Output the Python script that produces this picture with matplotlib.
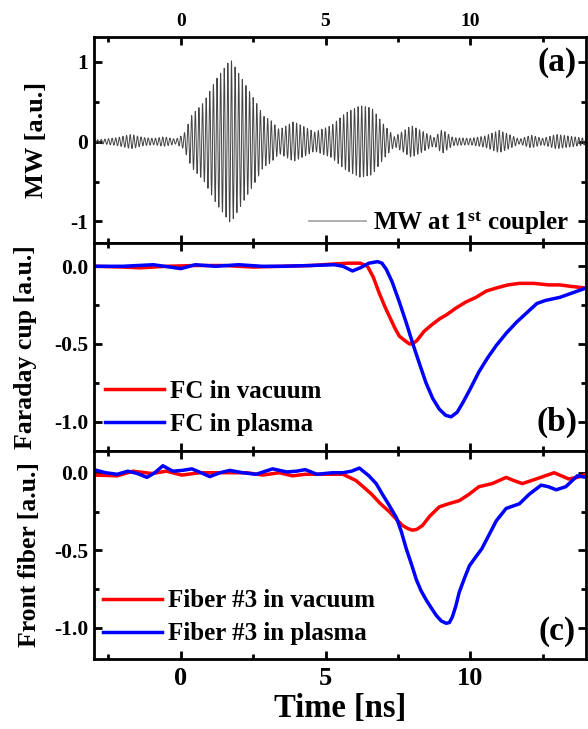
import numpy as np
import matplotlib
matplotlib.use("Agg")
import matplotlib.pyplot as plt
from matplotlib.ticker import MultipleLocator

plt.rcParams["font.family"] = ["Liberation Serif", "DejaVu Serif"]
plt.rcParams["font.weight"] = "bold"
plt.rcParams["mathtext.fontset"] = "custom"
plt.rcParams["mathtext.rm"] = "Liberation Serif:bold"
plt.rcParams["mathtext.bf"] = "Liberation Serif:bold"
plt.rcParams["mathtext.it"] = "Liberation Serif:bold"

# ---- (a) microwave signal at the first coupler: envelope + carrier ----
mw_env_t = [-3.0, -2.66, -2.2, -1.72, -1.28, -0.93, -0.59, -0.17, 0.1, 0.38,
            0.79, 1.24, 1.72, 2.17, 2.62, 2.85, 3.1, 3.4, 3.9, 4.3, 4.62, 5.2,
            5.7, 6.2, 6.6, 7.0, 7.38, 7.97, 8.4, 8.76, 9.03, 9.4, 10.0, 10.5,
            11.0, 11.4, 11.7, 12.1, 12.5, 12.97, 13.6, 14.0]
mw_env_amp = [0.02, 0.03, 0.05, 0.09, 0.05, 0.04, 0.06, 0.03, 0.09, 0.33,
              0.49, 0.79, 1.03, 0.75, 0.48, 0.32, 0.27, 0.15, 0.25, 0.18, 0.12,
              0.2, 0.36, 0.45, 0.42, 0.22, 0.06, 0.2, 0.12, 0.05, 0.15, 0.05,
              0.04, 0.07, 0.14, 0.08, 0.03, 0.08, 0.04, 0.09, 0.06, 0.04]
mw_period_ns = 0.125

# ---- (b) Faraday cup ----
fc_vac_t = [-3.0, -2.0, -1.4, -0.5, 0.5, 1.5, 2.5, 3.5, 4.5, 5.3, 5.8, 6.2,
            6.45, 6.65, 6.85, 7.05, 7.2, 7.4, 7.55, 7.75, 7.9, 8.0, 8.15, 8.4,
            8.65, 8.93, 9.2, 9.5, 9.85, 10.2, 10.55, 10.9, 11.3, 11.7, 12.2,
            12.7, 13.1, 13.5, 14.0]
fc_vac = [0.0, -0.005, -0.01, 0.0, 0.005, 0.005, -0.005, 0.0, 0.005, 0.015,
          0.02, 0.02, 0.0, -0.07, -0.17, -0.26, -0.32, -0.4, -0.45, -0.48,
          -0.5, -0.5, -0.48, -0.42, -0.38, -0.34, -0.31, -0.27, -0.23, -0.2,
          -0.16, -0.14, -0.12, -0.11, -0.11, -0.12, -0.12, -0.13, -0.14]

fc_pla_t = [-3.0, -2.0, -0.95, 0.0, 0.5, 1.2, 2.0, 2.8, 3.5, 4.5, 5.3, 5.6,
            5.93, 6.2, 6.5, 6.8, 6.95, 7.1, 7.3, 7.55, 7.8, 8.0, 8.25, 8.47,
            8.7, 8.93, 9.15, 9.34, 9.55, 9.74, 10.0, 10.3, 10.6, 10.9, 11.25,
            11.6, 11.95, 12.3, 12.6, 12.85, 13.1, 13.4, 13.7, 14.0]
fc_pla = [0.0, 0.0, 0.01, -0.015, 0.01, 0.0, 0.01, 0.0, 0.0, 0.005, 0.01,
          0.0, -0.03, -0.01, 0.02, 0.03, 0.02, -0.02, -0.1, -0.23, -0.37, -0.49,
          -0.63, -0.75, -0.85, -0.92, -0.96, -0.97, -0.94, -0.88, -0.79, -0.68,
          -0.59, -0.51, -0.43, -0.36, -0.3, -0.24, -0.22, -0.21, -0.2, -0.18,
          -0.16, -0.14]

# ---- (c) front fiber #3 ----
fib_vac_t = [-3.0, -2.2, -1.65, -1.0, -0.5, 0.03, 0.66, 1.55, 2.28, 2.83, 3.4,
             3.86, 4.3, 4.9, 5.6, 6.05, 6.3, 6.6, 6.9, 7.2, 7.45, 7.66, 7.85,
             8.0, 8.15, 8.35, 8.6, 8.93, 9.25, 9.62, 9.95, 10.3, 10.76, 11.24,
             11.5, 11.8, 12.28, 12.9, 13.4, 13.7, 14.0]
fib_vac = [-0.015, -0.02, 0.01, -0.005, 0.01, -0.015, 0.0, 0.0, 0.0, -0.015,
           0.0, -0.02, -0.01, -0.01, -0.01, -0.05, -0.09, -0.14, -0.2, -0.25,
           -0.3, -0.34, -0.36, -0.37, -0.365, -0.34, -0.28, -0.22, -0.2,
           -0.18, -0.14, -0.09, -0.07, -0.03, -0.05, -0.07, -0.04, 0.0, -0.04,
           -0.03, -0.01]

fib_pla_t = [-3.0, -2.6, -2.2, -1.83, -1.5, -1.17, -0.9, -0.62, -0.28, 0.05,
             0.38, 0.7, 1.0, 1.35, 1.69, 2.14, 2.6, 3.17, 3.66, 4.0, 4.3, 4.7,
             5.24, 5.6, 5.9, 6.17, 6.5, 6.75, 6.97, 7.2, 7.45, 7.62, 7.79, 7.97,
             8.14, 8.3, 8.48, 8.65, 8.83, 9.0, 9.17, 9.28, 9.38, 9.5, 9.62, 9.8,
             9.97, 10.2, 10.4, 10.65, 10.9, 11.24, 11.7, 12.03, 12.45, 12.7,
             12.97, 13.3, 13.7, 14.0]
fib_pla = [0.02, 0.0, -0.01, 0.01, -0.005, -0.03, 0.0, 0.045, 0.01, 0.015,
           0.025, 0.0, -0.025, 0.0, 0.015, 0.0, -0.01, 0.025, 0.005, 0.01, 0.02,
           -0.01, 0.0, 0.0, 0.01, 0.03, -0.02, -0.07, -0.14, -0.21, -0.29,
           -0.38, -0.49, -0.59, -0.69, -0.76, -0.82, -0.87, -0.92, -0.955,
           -0.97, -0.965, -0.93, -0.86, -0.77, -0.68, -0.6, -0.54, -0.49,
           -0.4, -0.31, -0.23, -0.2, -0.14, -0.08, -0.09, -0.11, -0.09, -0.02,
           -0.03]

time_ticks = [0, 5, 10]

RED = "#ff0000"
BLUE = "#0000ff"

fig = plt.figure(figsize=(5.88, 7.29), dpi=100)
L, R = 94 / 588, 586 / 588
H = 729.0
ax_a = fig.add_axes([L, 1 - 243 / H, R - L, (243 - 37) / H])
ax_b = fig.add_axes([L, 1 - 451 / H, R - L, (451 - 243) / H], sharex=ax_a)
ax_c = fig.add_axes([L, 1 - 659 / H, R - L, (659 - 451) / H], sharex=ax_a)

# carrier-modulated microwave trace
t_mw = np.arange(-3.0, 14.0001, 0.005)
env = np.interp(t_mw, mw_env_t, mw_env_amp)
mw = env * np.cos(2 * np.pi * t_mw / mw_period_ns)
ax_a.plot(t_mw, mw, color="#454545", lw=0.7)
ax_a.plot([], [], color="#a0a0a0", lw=1.2, label="MW at 1$^{\\rm st}$ coupler")

ax_b.plot(fc_vac_t, fc_vac, color=RED, lw=2.5, label="FC in vacuum")
ax_b.plot(fc_pla_t, fc_pla, color=BLUE, lw=2.5, label="FC in plasma")

ax_c.plot(fib_vac_t, fib_vac, color=RED, lw=2.5, label="Fiber #3 in vacuum")
ax_c.plot(fib_pla_t, fib_pla, color=BLUE, lw=2.5, label="Fiber #3 in plasma")

ax_a.set_xlim(-3, 14)
ax_a.set_ylim(-1.27, 1.31)
ax_b.set_ylim(-1.19, 0.15)
ax_c.set_ylim(-1.2, 0.14)

for ax in (ax_a, ax_b, ax_c):
    for s in ax.spines.values():
        s.set_linewidth(2.0)
    ax.xaxis.set_major_locator(MultipleLocator(5))
    ax.xaxis.set_minor_locator(MultipleLocator(2.5))
    ax.tick_params(which="both", direction="in", top=True, right=True,
                   width=2.0)
    ax.tick_params(which="major", length=6, labelsize=15.5, pad=4)
    ax.tick_params(which="minor", length=3.5)

ax_a.yaxis.set_major_locator(MultipleLocator(1))
ax_a.yaxis.set_minor_locator(MultipleLocator(0.5))
ax_a.set_yticks([-1, 0, 1])
ax_a.set_yticklabels(["-1", "0", "1"])
for ax in (ax_b, ax_c):
    ax.set_yticks([-1.0, -0.5, 0.0])
    ax.set_yticklabels(["-1.0", "-0.5", "0.0"])
    ax.yaxis.set_minor_locator(MultipleLocator(0.25))

ax_a.set_xticks(time_ticks)
ax_a.tick_params(axis="x", which="major", labeltop=True, labelbottom=False,
                 labelsize=14, pad=5)
ax_b.tick_params(axis="x", labelbottom=False)
ax_c.tick_params(axis="x", labelbottom=True, labelsize=19, pad=6)
ax_c.set_xticklabels([str(v) for v in time_ticks])

ax_a.set_ylabel("MW [a.u.]", fontsize=19, fontweight="bold")
ax_b.set_ylabel("Faraday cup [a.u.]", fontsize=18.5, fontweight="bold")
ax_c.set_ylabel("Front fiber [a.u.]", fontsize=18.5, fontweight="bold")
ax_a.yaxis.set_label_coords(-0.093, 0.5)
ax_b.yaxis.set_label_coords(-0.115, 0.5)
ax_c.yaxis.set_label_coords(-0.108, 0.5)
ax_c.set_xlabel("Time [ns]", fontsize=23.5, fontweight="bold", labelpad=2)

leg_kw = dict(frameon=False, prop={"weight": "bold", "size": 18},
              handletextpad=0.25, borderaxespad=0.0, borderpad=0.0)
ax_a.legend(loc="lower right", bbox_to_anchor=(0.965, 0.03), handlelength=2.3,
            **leg_kw)
ax_b.legend(loc="lower left", bbox_to_anchor=(0.022, 0.074), handlelength=2.35,
            labelspacing=0.4, **leg_kw)
ax_c.legend(loc="lower left", bbox_to_anchor=(0.018, 0.065), handlelength=2.35,
            labelspacing=0.4, **leg_kw)

for ax, tag, yy in ((ax_a, "(a)", 0.874), (ax_b, "(b)", 0.139),
                    (ax_c, "(c)", 0.13)):
    ax.text(0.941, yy, tag, transform=ax.transAxes, ha="center", va="center",
            fontsize=24, fontweight="bold")

fig.savefig("out.png", dpi=100)
